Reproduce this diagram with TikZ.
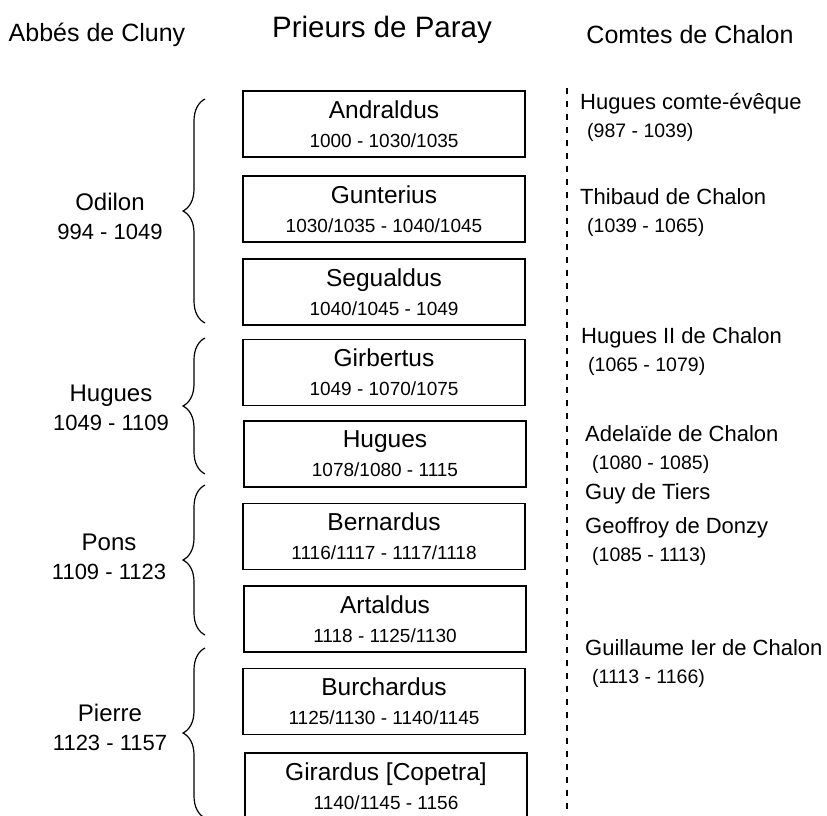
\documentclass[tikz,border=0pt]{standalone}
\usepackage{fontspec}
\setmainfont{Liberation Sans}
\usetikzlibrary{decorations.pathreplacing}

\tikzset{
	prieur/.style={draw, line width=1.3pt, minimum width=282pt, minimum height=66pt, inner sep=0pt, align=center, font=\fontsize{24.5}{29}\selectfont},
	abbe/.style={align=center, inner sep=0pt, font=\fontsize{24}{29}\selectfont},
	comte/.style={anchor=base west, align=left, inner sep=0pt, font=\fontsize{22}{28}\selectfont},
	titre/.style={inner sep=0pt, font=\fontsize{25}{30}\selectfont},
	accolade/.style={decorate, decoration={brace, amplitude=22pt}, line width=1.2pt},
}
\newcommand{\datep}[1]{{\fontsize{19}{24}\selectfont #1}}
\newcommand{\datea}[1]{{\fontsize{22}{29}\selectfont #1}}
\newcommand{\datec}[1]{\hspace*{7pt}{\fontsize{19.5}{24}\selectfont #1}}

\begin{document}
\begin{tikzpicture}[x=1pt, y=-1pt]
		\useasboundingbox (0,0) rectangle (827,816);

		% titres
		\node[titre] (cluny) at (97,35) {Abbés de Cluny};
		\node[titre, font=\fontsize{29.5}{34}\selectfont] (paray) at (382,30) {Prieurs de Paray};
		\node[titre] (chalon) at (690,35) {Comtes de Chalon};

		% prieurs
		\node[prieur] (andraldus) at (384,124) {Andraldus\\\datep{1000 - 1030/1035}};
		\node[prieur] (gunterius) at (384,209) {Gunterius\\\datep{1030/1035 - 1040/1045}};
		\node[prieur] (segualdus) at (384,292) {Segualdus\\\datep{1040/1045 - 1049}};
		\node[prieur] (girbertus) at (384,372.5) {Girbertus\\\datep{1049 - 1070/1075}};
		\node[prieur] (hugues) at (385,454) {Hugues\\\datep{1078/1080 - 1115}};
		\node[prieur] (bernardus) at (384,536.5) {Bernardus\\\datep{1116/1117 - 1117/1118}};
		\node[prieur] (artaldus) at (385,619) {Artaldus\\\datep{1118 - 1125/1130}};
		\node[prieur] (burchardus) at (384,701.5) {Burchardus\\\datep{1125/1130 - 1140/1145}};
		\node[prieur] (girardus) at (386,786) {Girardus [Copetra]\\\datep{1140/1145 - 1156}};

		% abbes
		\node[abbe] (odilon) at (110,216) {Odilon\\\datea{994 - 1049}};
		\node[abbe] (huguesabbe) at (111,408) {Hugues\\\datea{1049 - 1109}};
		\node[abbe] (pons) at (109,557) {Pons\\\datea{1109 - 1123}};
		\node[abbe] (pierre) at (110,727) {Pierre\\\datea{1123 - 1157}};

		\coordinate (odilonhaut) at (205,99);
		\coordinate (odilonbas) at (205,323);
		\coordinate (hugueshaut) at (205,338);
		\coordinate (huguesbas) at (205,474);
		\coordinate (ponshaut) at (205,485);
		\coordinate (ponsbas) at (205,635);
		\coordinate (pierrehaut) at (205,648);
		\coordinate (pierrebas) at (205,818);

		\draw[accolade] (odilonbas) -- (odilonhaut);
		\draw[accolade] (huguesbas) -- (hugueshaut);
		\draw[accolade] (ponsbas) -- (ponshaut);
		\draw[accolade] (pierrebas) -- (pierrehaut);

		% comtes
		\coordinate (tiretshaut) at (567,88);
		\coordinate (tiretsbas) at (567,816);
		\draw[line width=1.2pt, dash pattern=on 6pt off 7pt] (tiretshaut) -- (tiretsbas);

		\node[comte] (huguescomte) at (580,137) {Hugues comte-évêque\\\datec{(987 - 1039)}};
		\node[comte] (thibaud) at (580,232) {Thibaud de Chalon\\\datec{(1039 - 1065)}};
		\node[comte] (huguesdeux) at (581,371) {Hugues II de Chalon\\\datec{(1065 - 1079)}};
		\node[comte] (adelaide) at (585,469) {Adelaïde de Chalon\\\datec{(1080 - 1085)}};
		\node[comte] (guy) at (585,561) {Guy de Tiers\\[6pt]Geoffroy de Donzy\\\datec{(1085 - 1113)}};
		\node[comte] (guillaume) at (585,683) {Guillaume Ier de Chalon\\\datec{(1113 - 1166)}};
	\end{tikzpicture}
\end{document}
